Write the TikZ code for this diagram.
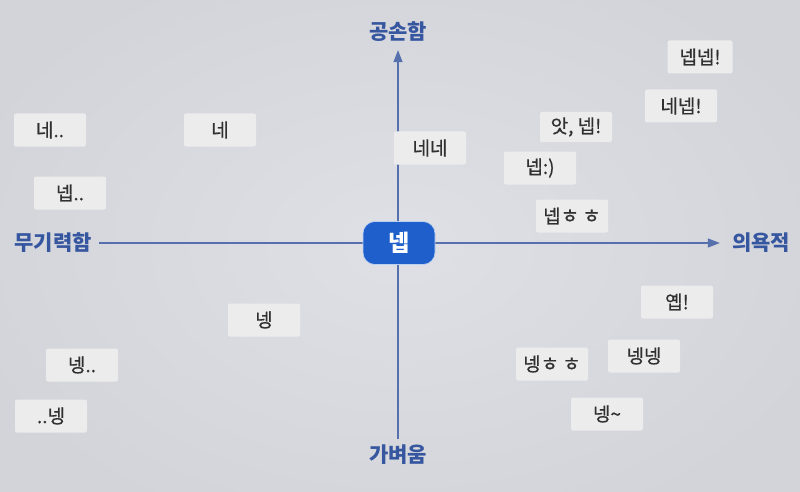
\documentclass[tikz,border=0pt]{standalone}
\usepackage{fontspec}
\setmainfont{Noto Sans CJK KR}
\newfontfamily\kr{Noto Sans CJK KR}
\newfontfamily\krm[FakeBold=0.6]{Noto Sans CJK KR}
\usetikzlibrary{arrows.meta}
\definecolor{bgin}{HTML}{DFE0E5}
\definecolor{bgout}{HTML}{D3D4D9}
\definecolor{boxfill}{HTML}{ECECEC}
\definecolor{axisblue}{HTML}{5670AE}
\definecolor{labelblue}{HTML}{3657A0}
\definecolor{centerblue}{HTML}{1F5FCC}
\definecolor{boxtext}{HTML}{303030}
\tikzset{
  wordbox/.style={fill=boxfill, rounded corners=2pt, minimum width=72pt, minimum height=33pt, inner sep=0pt, text=boxtext, font=\krm\fontsize{19pt}{22pt}\selectfont},
  axislabel/.style={text=labelblue, inner sep=2pt, font=\kr\bfseries\fontsize{21pt}{24pt}\selectfont},
  axisline/.style={draw=axisblue, line width=1.1pt},
  centerbox/.style={fill=centerblue, draw=white!70!centerblue, line width=0.6pt, rounded corners=12pt, minimum width=72pt, minimum height=43pt, inner sep=0pt, text=white, font=\kr\bfseries\fontsize{23pt}{25pt}\selectfont}
}
\newcommand{\hh}{{\fontsize{20pt}{22pt}\selectfont ㅎ\,ㅎ}}
\begin{document}
\begin{tikzpicture}[x=1pt,y=-1pt]
\useasboundingbox (0,0) rectangle (800,492);
\shade[inner color=bgin, outer color=bgout] (-60,-60) rectangle (860,552);
% axis labels
\node[axislabel] (top) at (398,32) {공손함};
\node[axislabel] (bottom) at (398,455) {가벼움};
\node[axislabel] (left) at (53,243) {무기력함};
\node[axislabel] (right) at (761,243) {의욕적};
% axes
\draw[axisline, -{Triangle[length=12pt,width=9pt]}, shorten <=5pt, shorten >=10pt] (left.east) -- (right.west);
\draw[axisline, -{Triangle[length=12pt,width=9pt]}, shorten <=4pt, shorten >=6pt] (bottom.north) -- (top.south);
% center
\node[centerbox] (center) at (399,243) {넵};
% word boxes
\node[wordbox] (b1) at (50,130) {네..};
\node[wordbox] (b2) at (220,130) {네};
\node[wordbox] (b3) at (70,193) {넵..};
\node[wordbox] (b4) at (430,148) {네네};
\node[wordbox, minimum width=65pt] (b5) at (700,57) {넵넵!};
\node[wordbox] (b6) at (681,106) {네넵!};
\node[wordbox, minimum height=30pt] (b7) at (576,127) {앗, 넵!};
\node[wordbox] (b8) at (540,168) {넵:)};
\node[wordbox] (b9) at (572,216) {넵\hh};
\node[wordbox] (b10) at (677,302) {옙!};
\node[wordbox] (b11) at (644,356) {넹넹};
\node[wordbox] (b12) at (552,364) {넹\hh};
\node[wordbox] (b13) at (607,414) {넹\textasciitilde};
\node[wordbox] (b14) at (264,320) {넹};
\node[wordbox] (b15) at (82,365) {넹..};
\node[wordbox] (b16) at (51,416) {..넹};
\end{tikzpicture}
\end{document}
